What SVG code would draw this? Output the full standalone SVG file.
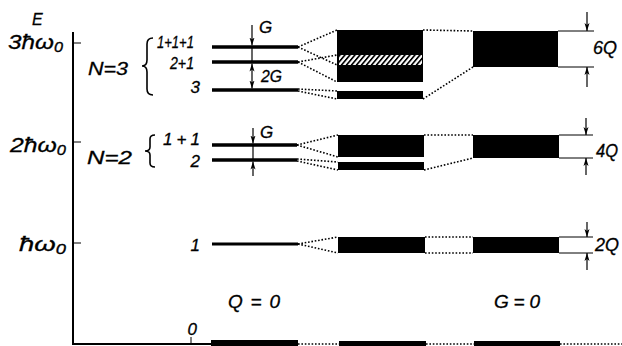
<svg xmlns="http://www.w3.org/2000/svg" width="622" height="346" viewBox="0 0 622 346">
<style>
text{font-family:"Liberation Sans",Arial,sans-serif;font-style:italic;fill:#000;stroke:#000;stroke-width:0.3}
.ax{stroke:#000;stroke-width:2;fill:none}
.lv{stroke:#000;stroke-width:3.5;fill:none}
.dot{stroke:#000;stroke-width:1.6;stroke-dasharray:1.6 1.8;fill:none}
.thin{stroke:#000;stroke-width:1;fill:none}
.arr{stroke:#000;stroke-width:1.2;fill:none}
.br{stroke:#000;stroke-width:1.6;fill:none}
.blk{fill:#000}
</style>
<defs>
<marker id="ah" viewBox="0 0 8 6" refX="8" refY="3" markerWidth="8" markerHeight="6" markerUnits="userSpaceOnUse" orient="auto-start-reverse">
<path d="M0,0.5 L8,3 L0,5.5 L2,3 z" fill="#000"/>
</marker>
<pattern id="hatch" patternUnits="userSpaceOnUse" width="5" height="10" patternTransform="skewX(-40)">
<rect width="5" height="10" fill="#fff"/>
<rect width="2.2" height="10" fill="#000"/>
</pattern>
</defs>

<g id="axes">
<line class="ax" x1="73" y1="32" x2="73" y2="345"/>
<line class="ax" x1="72" y1="344" x2="212" y2="344"/>
<line class="thin" x1="191" y1="337" x2="191" y2="344"/>
<line class="thin" x1="73" y1="43" x2="81" y2="43"/>
<line class="thin" x1="73" y1="142" x2="81" y2="142"/>
<line class="thin" x1="73" y1="243" x2="81" y2="243"/>
<text x="32" y="25" font-size="16">E</text>
<text x="8" y="49" font-size="21" textLength="55" lengthAdjust="spacingAndGlyphs">3ħω<tspan font-size="14" dy="3">0</tspan></text>
<text x="10" y="152" font-size="21" textLength="56" lengthAdjust="spacingAndGlyphs">2ħω<tspan font-size="14" dy="3">0</tspan></text>
<text x="19" y="251" font-size="21" textLength="47" lengthAdjust="spacingAndGlyphs">ħω<tspan font-size="14" dy="3">0</tspan></text>
</g>

<g id="N3-labels">
<text x="88" y="75" font-size="18" textLength="40" lengthAdjust="spacingAndGlyphs">N=3</text>
<path class="br" d="M153,38 Q147,38 147,44 L147,60 Q147,66 142,66 Q147,66 147,72 L147,89 Q147,95 153,95"/>
<text x="157" y="48" font-size="17" textLength="37" lengthAdjust="spacingAndGlyphs">1+1+1</text>
<text x="170" y="69" font-size="17" textLength="24" lengthAdjust="spacingAndGlyphs">2+1</text>
<text x="200" y="93" font-size="17" text-anchor="end">3</text>
</g>

<g id="N3-levels">
<line class="lv" x1="212" y1="47" x2="298" y2="47"/>
<line class="lv" x1="212" y1="62" x2="298" y2="62"/>
<line class="lv" x1="212" y1="90" x2="298" y2="90"/>
<line class="arr" x1="252" y1="25" x2="252" y2="45.5" marker-end="url(#ah)"/>
<line class="arr" x1="252" y1="47" x2="252" y2="62"/>
<line class="arr" x1="252" y1="63.5" x2="252" y2="88.5" marker-start="url(#ah)" marker-end="url(#ah)"/>
<text x="259" y="33" font-size="17">G</text>
<text x="261" y="82" font-size="17" textLength="21" lengthAdjust="spacingAndGlyphs">2G</text>
</g>

<g id="N3-mixed">
<rect class="blk" x="337" y="30" width="86" height="52"/>
<rect x="339" y="55" width="83" height="10" fill="url(#hatch)"/>
<rect class="blk" x="337" y="91" width="86" height="8"/>
</g>

<g id="N3-G0">
<rect class="blk" x="473" y="31" width="85" height="36"/>
<line class="thin" x1="558" y1="31" x2="594" y2="31"/>
<line class="thin" x1="558" y1="67" x2="594" y2="67"/>
<line class="arr" x1="587" y1="12" x2="587" y2="31" marker-end="url(#ah)"/>
<line class="arr" x1="587" y1="87" x2="587" y2="67" marker-end="url(#ah)"/>
<text x="593" y="54" font-size="18" textLength="24" lengthAdjust="spacingAndGlyphs">6Q</text>
</g>

<g id="N2-labels">
<text x="87" y="164" font-size="18" textLength="45" lengthAdjust="spacingAndGlyphs">N=2</text>
<path class="br" d="M155,135 Q150,135 150,139 L150,147 Q150,151 145,151 Q150,151 150,155 L150,163 Q150,167 155,167"/>
<text x="163" y="145" font-size="17" textLength="37" lengthAdjust="spacing">1+1</text>
<text x="200" y="167" font-size="17" text-anchor="end">2</text>
</g>

<g id="N2-levels">
<line class="lv" x1="212" y1="145" x2="297" y2="145"/>
<line class="lv" x1="212" y1="160" x2="297" y2="160"/>
<line class="arr" x1="253" y1="128" x2="253" y2="143.5" marker-end="url(#ah)"/>
<line class="arr" x1="253" y1="145" x2="253" y2="160"/>
<line class="arr" x1="253" y1="176" x2="253" y2="161.5" marker-end="url(#ah)"/>
<text x="260" y="138" font-size="17">G</text>
</g>

<g id="N2-mixed">
<rect class="blk" x="338" y="135" width="86" height="22"/>
<rect class="blk" x="338" y="162" width="86" height="8"/>
</g>

<g id="N2-G0">
<rect class="blk" x="473" y="135" width="86" height="23"/>
<line class="thin" x1="559" y1="135" x2="593" y2="135"/>
<line class="thin" x1="559" y1="158" x2="593" y2="158"/>
<line class="arr" x1="586" y1="118" x2="586" y2="135" marker-end="url(#ah)"/>
<line class="arr" x1="586" y1="175" x2="586" y2="158" marker-end="url(#ah)"/>
<text x="596" y="157" font-size="18" textLength="22" lengthAdjust="spacingAndGlyphs">4Q</text>
</g>

<g id="N1-levels">
<text x="200" y="251" font-size="17" text-anchor="end">1</text>
<line class="lv" x1="212" y1="244" x2="298" y2="244" style="stroke-width:3"/>
</g>

<g id="N1-mixed">
<rect class="blk" x="338" y="237" width="87" height="16"/>
</g>

<g id="N1-G0">
<rect class="blk" x="473" y="237" width="86" height="16"/>
<line class="thin" x1="559" y1="237" x2="593" y2="237"/>
<line class="thin" x1="559" y1="253" x2="593" y2="253"/>
<line class="arr" x1="587" y1="222" x2="587" y2="237" marker-end="url(#ah)"/>
<line class="arr" x1="587" y1="270" x2="587" y2="253" marker-end="url(#ah)"/>
<text x="595" y="251" font-size="18" textLength="24" lengthAdjust="spacingAndGlyphs">2Q</text>
</g>

<g id="N0-levels">
<text x="197" y="335" font-size="17" text-anchor="end">0</text>
<rect class="blk" x="211" y="340" width="87" height="6"/>
<rect class="blk" x="339" y="341" width="87" height="5"/>
<rect class="blk" x="474" y="341" width="86" height="5"/>
</g>

<g id="captions">
<text x="228" y="308" font-size="19" textLength="52" lengthAdjust="spacing">Q=0</text>
<text x="494" y="308" font-size="19" textLength="46" lengthAdjust="spacing">G=0</text>
</g>

<g id="connectors">
<line class="dot" x1="298" y1="47" x2="337" y2="30"/>
<line class="dot" x1="298" y1="47" x2="337" y2="65"/>
<line class="dot" x1="298" y1="62" x2="337" y2="55"/>
<line class="dot" x1="298" y1="62" x2="337" y2="82"/>
<line class="dot" x1="298" y1="89" x2="337" y2="91"/>
<line class="dot" x1="298" y1="91" x2="337" y2="99"/>
<line class="dot" x1="423" y1="30" x2="473" y2="31"/>
<line class="dot" x1="423" y1="99" x2="473" y2="67"/>
<line class="dot" x1="297" y1="145" x2="338" y2="135"/>
<line class="dot" x1="297" y1="145" x2="338" y2="157"/>
<line class="dot" x1="297" y1="159" x2="338" y2="162"/>
<line class="dot" x1="297" y1="161" x2="338" y2="170"/>
<line class="dot" x1="424" y1="135" x2="473" y2="135"/>
<line class="dot" x1="424" y1="170" x2="473" y2="158"/>
<line class="dot" x1="298" y1="244" x2="338" y2="237"/>
<line class="dot" x1="298" y1="244" x2="338" y2="253"/>
<line class="dot" x1="425" y1="237" x2="473" y2="237"/>
<line class="dot" x1="425" y1="253" x2="473" y2="253"/>
<line class="dot" x1="298" y1="344" x2="339" y2="344"/>
<line class="dot" x1="426" y1="344" x2="474" y2="344"/>
<line class="dot" x1="560" y1="344" x2="622" y2="344"/>
</g>
</svg>
